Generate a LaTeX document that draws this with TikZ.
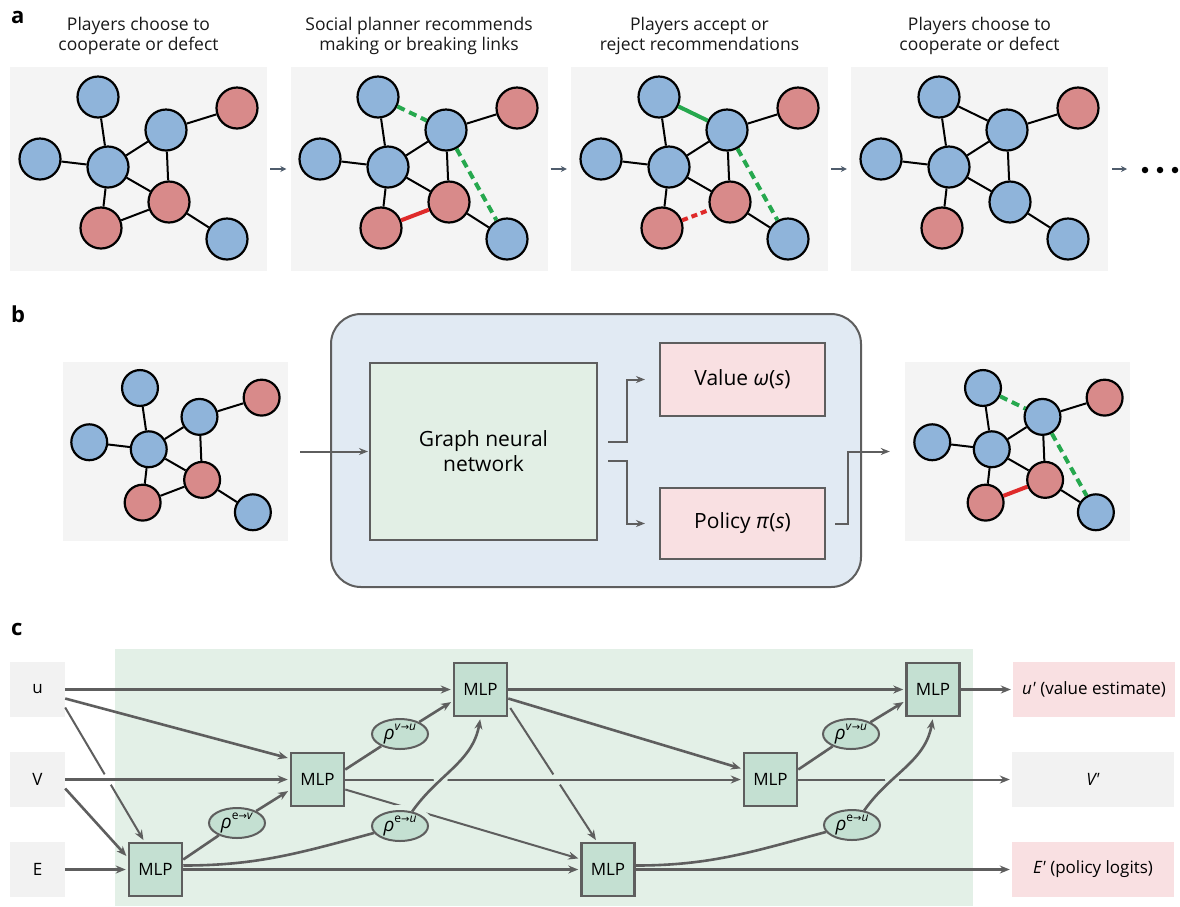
\documentclass[tikz,border=0pt]{standalone}
\usepackage{fontspec}
\setmainfont{Open Sans}
\newfontfamily\dvs{DejaVu Sans}
\usetikzlibrary{arrows.meta,shapes.geometric,intersections}

\definecolor{nbl}{HTML}{8FB4DA}
\definecolor{nrd}{HTML}{D88A8A}
\definecolor{pgray}{HTML}{F4F4F4}
\definecolor{egreen}{HTML}{26A84E}
\definecolor{ered}{HTML}{DF2A2A}
\definecolor{lgray}{HTML}{5E5E5E}
\definecolor{agray}{HTML}{4F5C6C}
\definecolor{bboxc}{HTML}{E1EAF3}
\definecolor{gnnc}{HTML}{E2EFE5}
\definecolor{pinkc}{HTML}{F9E0E2}
\definecolor{cbg}{HTML}{E3F0E7}
\definecolor{mlpc}{HTML}{C4E0D2}
\definecolor{ingray}{HTML}{F2F2F2}

\newcommand{\gnodes}[5]{%
  \begin{scope}[shift={(#2,#3)},scale=#4]
    \node[gn,fill=nbl,minimum size=#4*41pt] (#1tb) at (0,0) {};
    \node[gn,fill=nbl,minimum size=#4*41pt] (#1lb) at (-58,62) {};
    \node[gn,fill=nbl,minimum size=#4*41pt] (#1cb) at (10,70) {};
    \node[gn,fill=nbl,minimum size=#4*41pt] (#1ub) at (68,33) {};
    \node[gn,fill=nrd,minimum size=#4*41pt] (#1tr) at (139,11) {};
    \node[gn,fill=#5,minimum size=#4*41pt] (#1cr) at (71,105) {};
    \node[gn,fill=nrd,minimum size=#4*41pt] (#1ll) at (3,131) {};
    \node[gn,fill=nbl,minimum size=#4*41pt] (#1bb) at (129,142) {};
  \end{scope}}
\newcommand{\gbase}[1]{%
  \draw[ge] (#1tb) -- (#1cb) (#1lb) -- (#1cb) (#1cb) -- (#1ub) (#1cb) -- (#1cr)
    (#1ub) -- (#1tr) (#1ub) -- (#1cr) (#1cb) -- (#1ll) (#1cr) -- (#1bb);}
\newcommand{\rh}[2]{\textit{ρ}\raisebox{0.45em}{\fontsize{12}{12}\selectfont #1{\dvs\fontsize{10}{10}\selectfont →}#2}}

\tikzset{
  gn/.style={circle,draw=black,line width=2.2pt,inner sep=0pt},
  ge/.style={draw=black,line width=2pt},
  gdash/.style={draw=egreen,line width=4pt,dash pattern=on 8pt off 5pt},
  gsolid/.style={draw=egreen,line width=4pt},
  rsolid/.style={draw=ered,line width=4pt},
  rdash/.style={draw=ered,line width=4pt,dash pattern=on 6pt off 4pt},
  bgbox/.style={fill=pgray,inner sep=0pt,minimum width=257pt,minimum height=204pt},
  ttl/.style={align=center,font=\fontsize{17.5}{20}\selectfont,text=black!90},
  lbl/.style={font=\bfseries\fontsize{22}{22}\selectfont,anchor=base west,inner sep=0pt},
  sarr/.style={draw=agray,line width=1.5pt,-{Stealth[length=6pt,width=6pt]}},
  barr/.style={draw=lgray,line width=2pt,-{Stealth[length=9pt,width=7pt]},shorten >=1pt},
  bbx/.style={draw=lgray,line width=2pt,inner sep=0pt},
  inbox/.style={fill=ingray,inner sep=0pt,minimum width=55pt,minimum height=55pt,font=\fontsize{17}{20}\selectfont},
  mlpbox/.style={fill=mlpc,draw=lgray,line width=2.5pt,inner sep=0pt,minimum width=53pt,minimum height=53pt,font=\fontsize{17}{20}\selectfont},
  outbox/.style={inner sep=0pt,minimum width=162pt,minimum height=55pt,font=\fontsize{17}{20}\selectfont},
  ell/.style={ellipse,fill=mlpc,draw=lgray,line width=2pt,minimum width=56pt,minimum height=30pt,inner sep=0pt,font=\fontsize{19}{20}\selectfont,preaction={draw=cbg,line width=12pt}},
  tk/.style={draw=lgray,line width=2.6pt},
  tn/.style={draw=lgray,line width=2pt},
  ar/.style={-{Stealth[length=10pt,width=8pt]},shorten >=2pt},
}

\begin{document}
\begin{tikzpicture}[x=1pt,y=-1pt]
\useasboundingbox (0,0) rectangle (1180,906);

% ---------- panel a ----------
\node[lbl] (la) at (11,23) {a};
\node[bgbox] (a1) at (138.5,169) {};
\node[bgbox] (a2) at (419,169) {};
\node[bgbox] (a3) at (699.5,169) {};
\node[bgbox] (a4) at (979.5,169) {};
\node[ttl] (t1) at (138.5,36) {Players choose to\\cooperate or defect};
\node[ttl] (t2) at (419,36) {Social planner recommends\\making or breaking links};
\node[ttl] (t3) at (699.5,36) {Players accept or\\reject recommendations};
\node[ttl] (t4) at (979.5,36) {Players choose to\\cooperate or defect};

\gnodes{A}{98}{97}{1}{nrd}
\gbase{A}
\draw[ge] (All) -- (Acr);

\gnodes{B}{378}{97}{1}{nrd}
\gbase{B}
\draw[rsolid] (Bll) -- (Bcr);
\draw[gdash] (Btb) -- (Bub);
\draw[gdash] (Bub) -- (Bbb);

\gnodes{C}{659}{97}{1}{nrd}
\gbase{C}
\draw[rdash] (Cll) -- (Ccr);
\draw[gsolid] (Ctb) -- (Cub);
\draw[gdash] (Cub) -- (Cbb);

\gnodes{D}{939}{97}{1}{nbl}
\gbase{D}
\draw[ge] (Dtb) -- (Dub);

\draw[sarr] ([xshift=3pt]a1.east) -- ([xshift=-4pt]a2.west);
\draw[sarr] ([xshift=3pt]a2.east) -- ([xshift=-4pt]a3.west);
\draw[sarr] ([xshift=3pt]a3.east) -- ([xshift=-4pt]a4.west);
\coordinate (a5) at (1127,169);
\draw[sarr] ([xshift=4pt]a4.east) -- (a5);
\node[circle,fill=black,inner sep=0pt,minimum size=6.5pt] (d1) at (1145,170) {};
\node[circle,fill=black,inner sep=0pt,minimum size=6.5pt] (d2) at (1160,170) {};
\node[circle,fill=black,inner sep=0pt,minimum size=6.5pt] (d3) at (1175,170) {};

% ---------- panel b ----------
\node[lbl] (lb) at (11,322) {b};
\node[fill=pgray,inner sep=0pt,minimum width=225pt,minimum height=179pt] (bl) at (175.5,451.5) {};
\node[fill=pgray,inner sep=0pt,minimum width=225pt,minimum height=179pt] (br) at (1017.5,451.5) {};
\gnodes{P}{140}{388}{0.875}{nrd}
\gbase{P}
\draw[ge] (Pll) -- (Pcr);
\gnodes{Q}{983}{388}{0.875}{nrd}
\gbase{Q}
\draw[rsolid] (Qll) -- (Qcr);
\draw[gdash] (Qtb) -- (Qub);
\draw[gdash] (Qub) -- (Qbb);

\node[bbx,fill=bboxc,rounded corners=30pt,minimum width=530pt,minimum height=273pt] (bbx) at (596,450.5) {};
\node[bbx,fill=gnnc,minimum width=227pt,minimum height=177pt,align=center,font=\fontsize{21}{25}\selectfont] (gnn) at (483.5,451.5) {Graph neural\\network};
\node[bbx,fill=pinkc,minimum width=165pt,minimum height=73pt,font=\fontsize{21}{25}\selectfont] (val) at (742.5,379.5) {Value \textit{ω}(\textit{s})};
\node[bbx,fill=pinkc,minimum width=165pt,minimum height=71pt,font=\fontsize{21}{25}\selectfont] (pol) at (742.5,523.5) {Policy \textit{π}(\textit{s})};

\coordinate (bin) at (300,451.5);
\draw[barr] (bin) -- (gnn.west);
\draw[barr] ([xshift=10pt,yshift=9.5pt]gnn.east) -- ++(19,0) |- ([xshift=-13pt]val.west);
\draw[barr] ([xshift=10pt,yshift=-9.5pt]gnn.east) -- ++(19,0) |- ([xshift=-13pt]pol.west);
\draw[barr] ([xshift=9pt]pol.east) -- ++(13,0) |- ([xshift=-14pt]br.west);

% ---------- panel c ----------
\node[lbl] (lc) at (11,635) {c};
\fill[cbg] (115,649) rectangle (973,906);

\node[inbox] (u) at (37.5,689.5) {u};
\node[inbox] (V) at (37.5,779.5) {V};
\node[inbox] (E) at (37.5,869.5) {E};
\node[mlpbox] (m1) at (155.5,869.5) {MLP};
\node[mlpbox] (m2) at (317.5,779.5) {MLP};
\node[mlpbox] (m3) at (480.5,689.5) {MLP};
\node[mlpbox] (m4) at (608,869.5) {MLP};
\node[mlpbox] (m5) at (770.5,779.5) {MLP};
\node[mlpbox] (m6) at (933,689.5) {MLP};
\node[outbox,fill=pinkc] (uo) at (1094,689.5) {\textit{u\textquotesingle} (value estimate)};
\node[outbox,fill=ingray] (Vo) at (1093,779.5) {\textit{V\textquotesingle}};
\node[outbox,fill=pinkc] (Eo) at (1093,869.5) {\textit{E\textquotesingle} (policy logits)};

% inputs
\draw[tn,ar,name path=um1] ([yshift=-18pt]u.east) -- ([xshift=-11pt]m1.north);
\path[name path=vm2] (V.east) -- (m2.west);
\fill[white,name intersections={of=um1 and vm2}] (intersection-1) circle (6);
\draw[tk,ar] (V.east) -- (m2.west);
\draw[tk,ar] (u.east) -- (m3.west);
\draw[tk,ar] ([yshift=-9pt]u.east) -- ([yshift=21pt]m2.west);
\draw[tk,ar] ([yshift=-9pt]V.east) -- ([yshift=12pt]m1.west);
\draw[tk,ar] (E.east) -- (m1.west);

% internal straight
\draw[tk,ar] (m1.east) -- (m4.west);
\draw[tn,ar,name path=m34] ([xshift=2pt,yshift=-18.5pt]m3.east) -- ([xshift=-11pt]m4.north);
\path[name path=m25] (m2.east) -- (m5.west);
\fill[cbg,name intersections={of=m34 and m25}] (intersection-1) circle (6);
\draw[tn,ar] (m2.east) -- (m5.west);
\draw[tn,ar] ([yshift=-10pt]m2.east) -- ([yshift=10.5pt]m4.west);
\draw[tk,ar] (m3.east) -- (m6.west);
\draw[tk,ar] ([yshift=-9pt]m3.east) -- ([yshift=10.5pt]m5.west);
\draw[tn,ar] (m5.east) -- (Vo.west);
\draw[tk,ar] (m4.east) -- (Eo.west);
\draw[tk,ar] (m6.east) -- (uo.west);

% aggregators
\node[ell] (r1) at (237,823) {\rh{e}{\textit{v}}};
\node[ell] (r2) at (400,734) {\rh{\textit{v}}{\textit{u}}};
\node[ell] (r3) at (400,826) {\rh{e}{\textit{u}}};
\node[ell] (r4) at (851,734) {\rh{\textit{v}}{\textit{u}}};
\node[ell] (r5) at (852,825) {\rh{e}{\textit{u}}};

\draw[tk] ([yshift=10pt]m1.east) -- (r1);
\draw[tk,ar] (r1) -- ([yshift=-10.5pt]m2.west);
\draw[tk] ([yshift=10pt]m2.east) -- (r2);
\draw[tk,ar] (r2) -- ([yshift=-11.5pt]m3.west);
\draw[tk] ([yshift=10pt]m5.east) -- (r4);
\draw[tk,ar] (r4) -- ([yshift=-11.5pt]m6.west);

\draw[tk] ([yshift=4pt]m1.east) to[out=0,in=195] (r3);
\draw[tk] ([yshift=4pt]m4.east) to[out=0,in=195] (r5);

\path[name path=c1] (r3.50) to[out=55,in=-100] (m3.south);
\fill[cbg,name intersections={of=c1 and m25}] (intersection-1) circle (7);
\draw[tk,ar] (r3.50) to[out=55,in=-100] (m3.south);

\path[name path=m5v] (m5.east) -- (Vo.west);
\path[name path=c2] (r5.50) to[out=55,in=-100] (m6.south);
\fill[cbg,name intersections={of=c2 and m5v}] (intersection-1) circle (7);
\draw[tk,ar] (r5.50) to[out=55,in=-100] (m6.south);
\end{tikzpicture}
\end{document}
